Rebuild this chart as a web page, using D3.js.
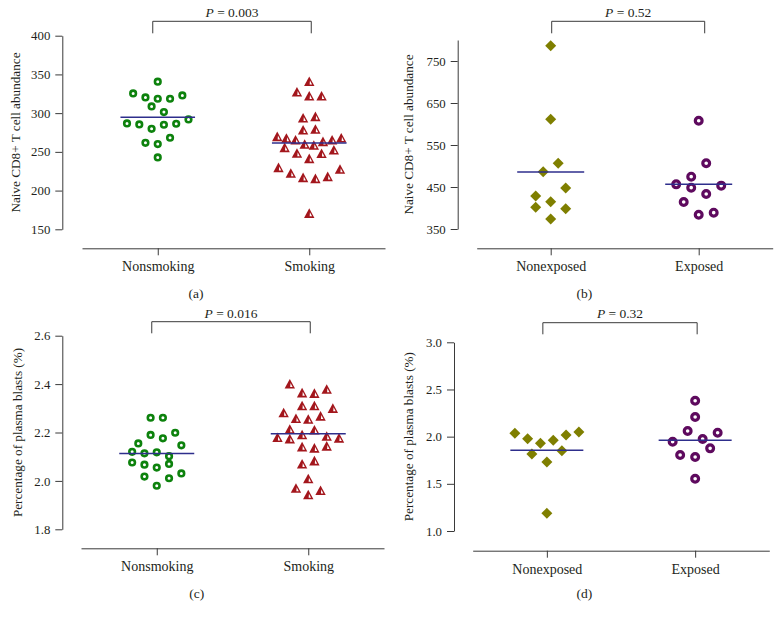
<!DOCTYPE html>
<html>
<head>
<meta charset="utf-8">
<script src="https://cdn.jsdelivr.net/npm/d3@7"></script>
<style>
  html, body { margin: 0; padding: 0; background: #fff; }
  svg { display: block; }
  text { font-family: "Liberation Serif", "Times New Roman", serif; fill: #231f20; }
</style>
</head>
<body>
<svg id="chart" width="781" height="619"></svg>
<script>
// ---------------- data ----------------
const smokingCategories = ["Nonsmoking", "Smoking"];
const exposureCategories = ["Nonexposed", "Exposed"];

// (a) Naive CD8+ T cell abundance
const naiveNonsmoking = [242.8, 261.7, 260.0, 268.2, 286.7, 285.4, 279.8, 285.0, 286.3, 291.9,
                         308.7, 301.4, 325.5, 320.3, 318.6, 318.6, 322.9, 340.6];
const naiveSmoking = [170.4, 229.4, 222.1, 216.5, 215.2, 217.8, 227.3,
                      255.3, 248.0, 241.1, 247.6, 252.3,
                      269.5, 267.3, 265.2, 259.6, 258.3, 263.0, 265.2, 267.8,
                      278.1, 279.0, 293.5, 295.3, 327.2, 322.0, 322.0, 340.6];
// (b)
const naiveNonexposed = [401.6, 373.8, 398.4, 428.6, 415.1, 447.5, 486.5, 506.3, 611.1, 786.5];
const naiveExposed = [414.3, 384.1, 388.9, 456.3, 448.4, 433.3, 453.2, 474.6, 506.5, 607.9];
// (c) Percentage of plasma blasts
const plasmaNonsmoking = [2.018, 1.980, 2.011, 2.076, 2.067, 2.055, 2.070, 2.031,
                          2.120, 2.114, 2.118, 2.102, 2.147, 2.155, 2.190, 2.176, 2.199, 2.261, 2.261];
const plasmaSmoking = [1.969, 1.942, 1.960, 2.008, 2.069, 2.082,
                       2.179, 2.173, 2.140, 2.135, 2.143, 2.176,
                       2.213, 2.190, 2.210, 2.184,
                       2.281, 2.257, 2.254, 2.267, 2.299,
                       2.310, 2.310, 2.400, 2.363, 2.361, 2.378];
// (d)
const plasmaNonexposed = [1.187, 1.816, 1.731, 1.851, 2.035, 1.978, 1.929, 1.961, 2.017, 2.049];
const plasmaExposed = [1.554, 1.805, 1.784, 1.876, 1.946, 2.060, 1.975, 2.042, 2.208, 2.381];

const naiveTicksSmoking = [150, 200, 250, 300, 350, 400];
const naiveTicksExposure = [350, 450, 550, 650, 750];
const plasmaTicksSmoking = [1.8, 2.0, 2.2, 2.4, 2.6];
const plasmaTicksExposure = [1.0, 1.5, 2.0, 2.5, 3.0];

const pValues = ["0.003", "0.52", "0.016", "0.32"];
const panelLabels = ["(a)", "(b)", "(c)", "(d)"];
const yTitles = ["Naive CD8+ T cell abundance", "Naive CD8+ T cell abundance",
                 "Percentage of plasma blasts (%)", "Percentage of plasma blasts (%)"];

// ---------------- styles / layout ----------------
const MEAN_COLOR = "#2e2e8c";
const AXIS_COLOR = "#3a3a3a";
const markerStyles = {
  greenRing:  { kind: "ring", color: "#0d820d", r: 2.8, sw: 2.6, step: 12.3 },
  redTri:     { kind: "tri", color: "#a3161c", step: 12.3 },
  oliveDiam:  { kind: "diamond", color: "#7f7f00", step: 15 },
  purpleRing: { kind: "ring", color: "#5e0a5e", r: 3.4, sw: 3.2, step: 15 }
};

const panels = [
  { cats: smokingCategories, series: [naiveNonsmoking, naiveSmoking], marks: ["greenRing", "redTri"],
    yDomain: [150, 400], yRange: [229.3, 35.7], ticks: naiveTicksSmoking, fmt: d3.format("d"),
    axisX: 62.3, xRange: [82, 385], xAxisY: 248.3, title: yTitles[0], titleX: 15,
    p: pValues[0], brY: 21.3, brBottom: 33.3, brDx: [-5, 2], pY: 16.5,
    label: panelLabels[0], labelX: 196, labelY: 298, meanHW: 37.3 },
  { cats: exposureCategories, series: [naiveNonexposed, naiveExposed], marks: ["oliveDiam", "purpleRing"],
    yDomain: [350, 800], yRange: [229, 40], ticks: naiveTicksExposure, fmt: d3.format("d"),
    axisX: 457.7, xRange: [476.7, 772.7], xAxisY: 248.3, title: yTitles[1], titleX: 408.7,
    p: pValues[1], brY: 21.3, brBottom: 33.3, brDx: [1, 6], pY: 16.5,
    label: panelLabels[1], labelX: 584.3, labelY: 297.5, meanHW: 33.5 },
  { cats: smokingCategories, series: [plasmaNonsmoking, plasmaSmoking], marks: ["greenRing", "redTri"],
    yDomain: [1.8, 2.6], yRange: [529.3, 335.7], ticks: plasmaTicksSmoking, fmt: d3.format(".1f"),
    axisX: 62.3, xRange: [81, 384], xAxisY: 548.3, title: yTitles[2], titleX: 17.7,
    p: pValues[2], brY: 321.7, brBottom: 333.3, brDx: [-5, 2], pY: 317.5,
    label: panelLabels[2], labelX: 196.7, labelY: 597.5, meanHW: 37.5 },
  { cats: exposureCategories, series: [plasmaNonexposed, plasmaExposed], marks: ["oliveDiam", "purpleRing"],
    yDomain: [1.0, 3.0], yRange: [531, 342.3], ticks: plasmaTicksExposure, fmt: d3.format(".1f"),
    axisX: 454, xRange: [472.7, 769.3], xAxisY: 550.7, title: yTitles[3], titleX: 408.3,
    p: pValues[3], brY: 322.7, brBottom: 334.3, brDx: [-4, 2], pY: 318.3,
    label: panelLabels[3], labelX: 584.3, labelY: 597.5, meanHW: 36.5 }
];

// Prism-like scatter layout: rows by vertical window, spread horizontally
function layoutX(values, y, cx, step, maxW) {
  const win = step * 0.94;
  const order = d3.range(values.length).sort((a, b) => d3.ascending(values[a], values[b]) || a - b);
  const rows = []; let cur = []; let start = null;
  for (const i of order) {
    const py = y(values[i]);
    if (cur.length && start - py > win) { rows.push(cur); cur = []; }
    if (!cur.length) start = py;
    cur.push(i);
  }
  if (cur.length) rows.push(cur);
  const xs = new Array(values.length);
  for (const r of rows) {
    r.sort((a, b) => a - b);
    const n = r.length;
    const s = n > 1 ? Math.min(step, maxW / (n - 1)) : 0;
    r.forEach((i, k) => { xs[i] = cx + (k - (n - 1) / 2) * s; });
  }
  return xs;
}

const svg = d3.select("#chart");

function drawMarker(g, style, x, y) {
  if (style.kind === "ring") {
    g.append("circle").attr("cx", x).attr("cy", y).attr("r", style.r)
      .attr("fill", "#fff").attr("stroke", style.color).attr("stroke-width", style.sw);
  } else if (style.kind === "diamond") {
    const s = 5.5;
    g.append("path").attr("d", `M${x},${y - s}L${x + s},${y}L${x},${y + s}L${x - s},${y}Z`)
      .attr("fill", style.color);
  } else if (style.kind === "tri") {
    g.append("path").attr("d", `M${x},${y - 5.2}L${x + 5.2},${y + 4.4}L${x - 5.2},${y + 4.4}Z`)
      .attr("fill", style.color);
    g.append("path").attr("d", `M${x + 0.7},${y - 1.2}L${x + 2.8},${y + 2.8}L${x + 0.4},${y + 2.8}Z`)
      .attr("fill", "#fff");
  }
}

panels.forEach(P => {
  const g = svg.append("g");
  const y = d3.scaleLinear().domain(P.yDomain).range(P.yRange);
  const x = d3.scalePoint().domain(P.cats).range(P.xRange).padding(0.5);

  // y axis
  const ya = g.append("g").attr("transform", `translate(${P.axisX},0)`)
    .call(d3.axisLeft(y).tickValues(P.ticks).tickFormat(P.fmt).tickSize(7).tickSizeOuter(0).tickPadding(5));
  ya.attr("font-family", null);
  ya.select(".domain").attr("stroke", AXIS_COLOR);
  ya.selectAll(".tick line").attr("stroke", AXIS_COLOR);
  ya.selectAll(".tick text").style("font-size", "12.8px").attr("fill", "#231f20");

  // x axis
  const xa = g.append("g").attr("transform", `translate(0,${P.xAxisY})`)
    .call(d3.axisBottom(x).tickSize(7).tickSizeOuter(0).tickPadding(6));
  xa.attr("font-family", null);
  xa.select(".domain").attr("stroke", AXIS_COLOR);
  xa.selectAll(".tick line").attr("stroke", AXIS_COLOR);
  xa.selectAll(".tick text").style("font-size", "14px").attr("fill", "#231f20");

  // y title
  const yc = (P.yRange[0] + P.yRange[1]) / 2;
  g.append("text").attr("transform", `translate(${P.titleX},${yc}) rotate(-90)`)
    .attr("text-anchor", "middle").attr("dy", "0.35em").style("font-size", "13.2px").text(P.title);

  // points + means
  P.series.forEach((vals, si) => {
    const cat = P.cats[si];
    const cx = x(cat);
    const st = markerStyles[P.marks[si]];
    const xs = layoutX(vals, y, cx, st.step, 64);
    const m = d3.mean(vals);
    const pg = g.append("g");
    vals.forEach((v, i) => drawMarker(pg, st, xs[i], y(v)));
    g.append("line").attr("x1", cx - P.meanHW).attr("x2", cx + P.meanHW)
      .attr("y1", y(m)).attr("y2", y(m)).attr("stroke", MEAN_COLOR).attr("stroke-width", 1.5);
  });

  // significance bracket
  const bx1 = x(P.cats[0]) + P.brDx[0], bx2 = x(P.cats[1]) + P.brDx[1];
  g.append("path").attr("d", `M${bx1},${P.brBottom}V${P.brY}H${bx2}V${P.brBottom}`)
    .attr("fill", "none").attr("stroke", AXIS_COLOR).attr("stroke-width", 1);
  const t = g.append("text").attr("x", (bx1 + bx2) / 2).attr("y", P.pY)
    .attr("text-anchor", "middle").style("font-size", "13.5px");
  t.append("tspan").attr("font-style", "italic").text("P");
  t.append("tspan").text(" = " + P.p);

  // panel label
  g.append("text").attr("x", P.labelX).attr("y", P.labelY).attr("text-anchor", "middle")
    .style("font-size", "13.5px").text(P.label);
});
</script>
</body>
</html>
